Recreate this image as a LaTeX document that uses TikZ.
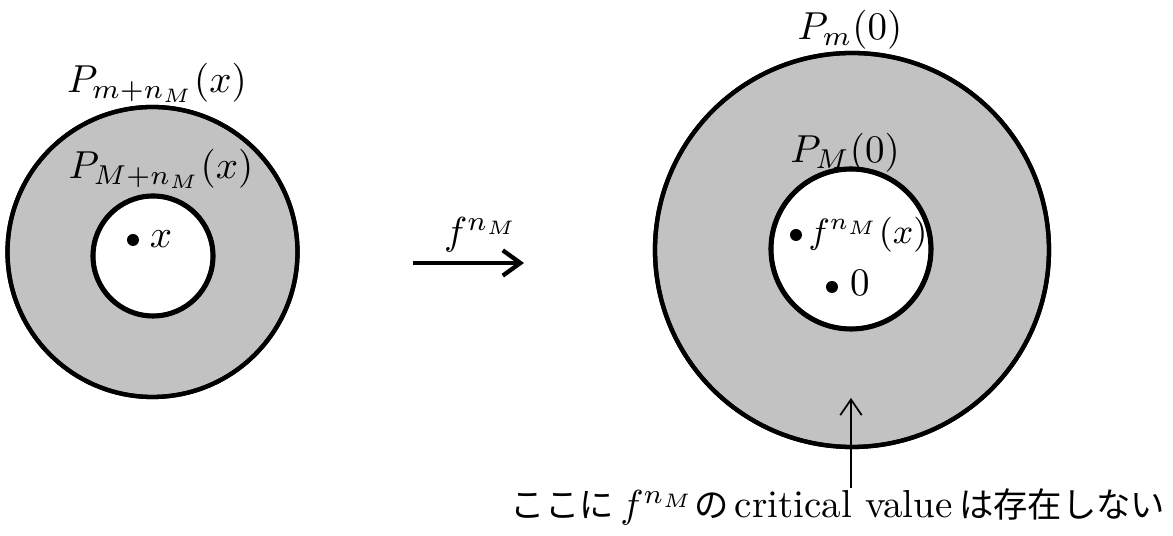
\documentclass[tikz,border=0pt]{standalone}
\usepackage{fontspec}
\newfontfamily\cjk[Scale=0.88]{Noto Sans CJK JP}
\usetikzlibrary{arrows.meta}
\definecolor{ringgray}{gray}{0.76}
\begin{document}
\begin{tikzpicture}[x=0.2564pt,y=-0.2564pt,
  ring/.style={line width=1.1pt, draw=black, fill=ringgray, even odd rule},
  lbl/.style={inner sep=0pt, anchor=base},
  dot/.style={fill=black},
  maparrow/.style={line width=1.1pt, -{Straight Barb[length=4.5pt,width=6.5pt]}},
  notearrow/.style={line width=0.45pt, -{Straight Barb[length=4pt,width=5.5pt]}}]
\useasboundingbox (0,0) rectangle (1173,536);
% left annulus
\coordinate (LO) at (152.5,252);
\coordinate (LI) at (153,256);
\path[ring] (LO) circle[radius=145] (LI) circle[radius=60];
\draw[line width=1.1pt] (LO) circle[radius=145];
\draw[line width=1.3pt] (LI) circle[radius=60];
\fill[dot] (133,240) circle[radius=6];
\node[lbl] (lx) at (161,248) {$x$};
\node[lbl] (lout) at (157,93) {$P_{m+n_M}(x)$};
\node[lbl] (lin) at (161,179) {$P_{M+n_M}(x)$};
% map arrow
\coordinate (fa) at (413,263);
\coordinate (fb) at (524,263);
\draw[maparrow] (fa) -- (fb);
\node[lbl] (fl) at (481,245) {$f^{n_M}$};
% right annulus
\coordinate (RO) at (852,250);
\coordinate (RI) at (851,249);
\path[ring] (RO) circle[radius=197] (RI) circle[radius=80];
\draw[line width=1.1pt] (RO) circle[radius=197];
\draw[line width=1.3pt] (RI) circle[radius=80];
\fill[dot] (796,235) circle[radius=6];
\node[lbl, font=\fontsize{8.6}{10}\selectfont] (rf) at (868,244) {$f^{n_M}(x)$};
\fill[dot] (832,287) circle[radius=6];
\node[lbl] (rz) at (860,296) {$0$};
\node[lbl] (rout) at (850,40) {$P_m(0)$};
\node[lbl] (rin) at (845,163) {$P_M(0)$};
% note
\coordinate (na) at (851,488);
\coordinate (nb) at (851,398);
\draw[notearrow] (na) -- (nb);
\node[inner sep=0pt, anchor=base east] (note) at (1166,518) {{\cjk ここに}\,$f^{n_M}${\cjk の}\,critical value\,{\cjk は存在しない}};
\end{tikzpicture}
\end{document}
